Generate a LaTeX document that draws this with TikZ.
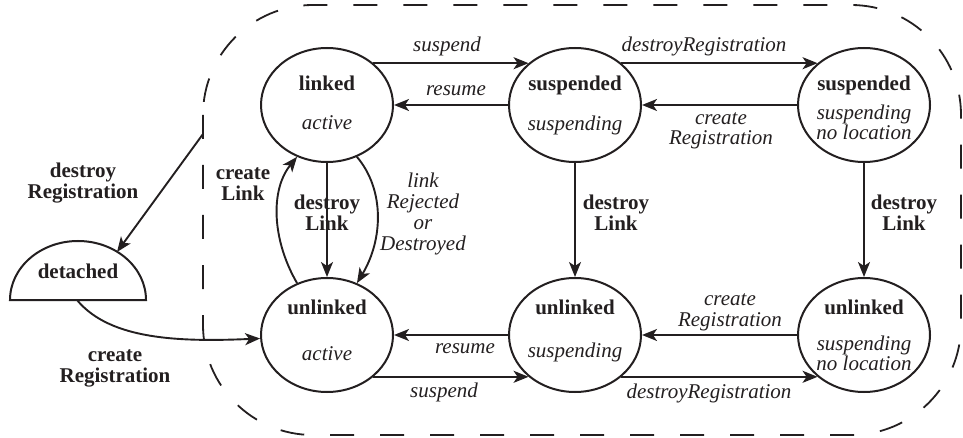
\documentclass[tikz,border=0pt]{standalone}
\usepackage{fontspec}
\setmainfont{Liberation Serif}
\usetikzlibrary{arrows.meta,shapes.geometric}
\definecolor{ink}{HTML}{231F20}
\begin{document}
\begin{tikzpicture}[x=1pt,y=-1pt,
  state/.style={ellipse, draw=ink, line width=2pt, minimum width=132pt, minimum height=114pt, inner sep=0pt},
  lbl/.style={text=ink, inner sep=0pt, anchor=base, align=center},
  bl/.style={lbl, font=\fontsize{21}{21}\selectfont\bfseries},
  il/.style={lbl, font=\fontsize{21}{21}\selectfont\itshape},
  ilt/.style={lbl, font=\fontsize{21}{20}\selectfont\itshape},
  arr/.style={draw=ink, line width=1.9pt, -{Stealth[length=15pt,width=12pt,inset=4pt]}},
  boundary/.style={draw=ink, line width=1.8pt, dash pattern=on 24pt off 26pt, rounded corners=110pt},
  shapeline/.style={draw=ink, line width=2pt}
]
\useasboundingbox (0,0) rectangle (963,438);

% boundary
\draw[boundary] (203,5) rectangle (961,435);

% states
\node[state] (lnk)  at (327,105) {};
\node[state] (sus)  at (575,105) {};
\node[state] (susn) at (864,105) {};
\node[state] (ula)  at (327,335) {};
\node[state] (uls)  at (575,335) {};
\node[state] (uln)  at (864,335) {};

\node[bl]  (tl1) at (327,91)  {linked};
\node[il]  (tl2) at (327,130) {active};
\node[bl]  (ts1) at (575,91)  {suspended};
\node[il]  (ts2) at (575,131) {suspending};
\node[bl]  (tn1) at (864,91)  {suspended};
\node[ilt] (tn2) at (864,140) {suspending\\no location};
\node[bl]  (tu1) at (327,314) {unlinked};
\node[il]  (tu2) at (327,360) {active};
\node[bl]  (tv1) at (575,314) {unlinked};
\node[il]  (tv2) at (575,357) {suspending};
\node[bl]  (tw1) at (864,314) {unlinked};
\node[ilt] (tw2) at (864,370) {suspending\\no location};

% detached
\draw[shapeline] (146,300) arc[start angle=0,end angle=-180,x radius=68,y radius=59] -- cycle;
\node[bl] (det) at (78,278) {detached};
\coordinate (detIn) at (117,252);
\coordinate (detOut) at (77,300);
\coordinate (bnd) at (203,134);

% connectors
\draw[arr] (lnk.42) -- (sus.138);
\draw[arr] (sus.west) -- (lnk.east);
\draw[arr] (sus.42) -- (susn.138);
\draw[arr] (susn.west) -- (sus.east);
\draw[arr] (lnk.south) -- (ula.north);
\draw[arr] (sus.south) -- (uls.north);
\draw[arr] (susn.south) -- (uln.north);
\draw[arr] (uls.west) -- (ula.east);
\draw[arr] (ula.-42) -- (uls.-138);
\draw[arr] (uln.west) -- (uls.east);
\draw[arr] (uls.-42) -- (uln.-138);
\draw[arr] (ula.120) .. controls (272,240) and (270,190) .. (lnk.240);
\draw[arr] (lnk.-60) .. controls (385,190) and (383,240) .. (ula.60);
\draw[arr] (bnd) -- (detIn);
\draw[arr] (detOut) .. controls (110,340) and (180,342) .. (ula.183);

% labels (base = baseline of last line)
\node[il]  (lsu1)  at (447,52)  {suspend};
\node[il]  (lre1)  at (456,96)  {resume};
\node[il]  (ldr1)  at (704,52)  {destroyRegistration};
\node[ilt] (lcr1)  at (721,145) {create\\Registration};
\node[bl]  (ldl1)  at (327,231) {destroy\\Link};
\node[bl]  (ldl2)  at (616,231) {destroy\\Link};
\node[bl]  (ldl3)  at (904,231) {destroy\\Link};
\node[bl]  (lcl)   at (243,201) {create\\Link};
\node[il]  (lrj)   at (423,251) {link\\Rejected\\or\\Destroyed};
\node[bl]  (ldreg) at (83,199)  {destroy\\Registration};
\node[bl]  (lcreg) at (115,382) {create\\Registration};
\node[il]  (lre2)  at (465,353) {resume};
\node[il]  (lsu2)  at (444,397) {suspend};
\node[il]  (lcr2)  at (730,326) {create\\Registration};
\node[il]  (ldr2)  at (709,398) {destroyRegistration};
\end{tikzpicture}
\end{document}
